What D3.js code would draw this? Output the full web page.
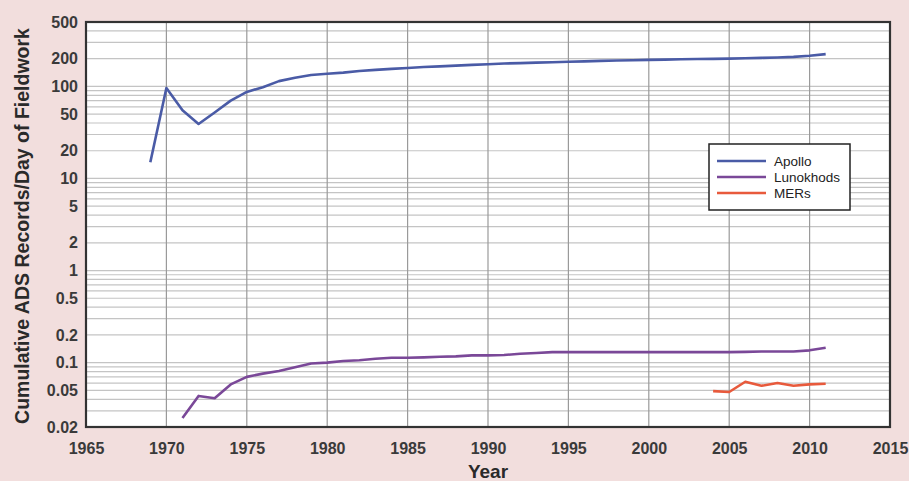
<!DOCTYPE html>
<html>
<head>
<meta charset="utf-8">
<script src="https://cdn.jsdelivr.net/npm/d3@7"></script>
<style>
  body { margin: 0; background: #f2dedd; }
  svg { display: block; }
</style>
</head>
<body>
<div id="chart"></div>
<script>
// data
var apolloYears = [1969, 1970, 1971, 1972, 1973, 1974, 1975, 1976, 1977, 1978, 1979, 1980,
  1981, 1982, 1983, 1984, 1985, 1986, 1987, 1988, 1989, 1990, 1991, 1992, 1993, 1994, 1995,
  1996, 1997, 1998, 1999, 2000, 2001, 2002, 2003, 2004, 2005, 2006, 2007, 2008, 2009, 2010, 2011];
var apolloValues = [15, 96, 55, 39, 52, 70, 87, 98, 114, 124, 133, 137,
  141, 147, 151, 155, 158, 162, 165, 168, 171, 174, 177, 179, 181, 183, 185,
  187, 189, 191, 192, 194, 195, 197, 198, 199, 200, 202, 204, 206, 209, 215, 224];

var lunoYears = [1971, 1972, 1973, 1974, 1975, 1976, 1977, 1978, 1979, 1980, 1981, 1982,
  1983, 1984, 1985, 1986, 1987, 1988, 1989, 1990, 1991, 1992, 1993, 1994, 1995, 1996,
  1997, 1998, 1999, 2000, 2001, 2002, 2003, 2004, 2005, 2006, 2007, 2008, 2009, 2010, 2011];
var lunoValues = [0.025, 0.0435, 0.041, 0.058, 0.070, 0.076, 0.081, 0.089, 0.098, 0.100, 0.104, 0.106,
  0.110, 0.113, 0.113, 0.114, 0.116, 0.117, 0.120, 0.120, 0.121, 0.125, 0.127, 0.130, 0.130, 0.130,
  0.130, 0.130, 0.130, 0.130, 0.130, 0.130, 0.130, 0.130, 0.130, 0.131, 0.132, 0.132, 0.132, 0.136, 0.145];

var merYears = [2004, 2005, 2006, 2007, 2008, 2009, 2010, 2011];
var merValues = [0.049, 0.048, 0.062, 0.056, 0.060, 0.056, 0.058, 0.059];

var seriesNames = ["Apollo", "Lunokhods", "MERs"];
var seriesColors = ["#4a5ba6", "#7a4898", "#e85a3c"];

var xTicks = [1965, 1970, 1975, 1980, 1985, 1990, 1995, 2000, 2005, 2010, 2015];
var yTicks = [0.02, 0.05, 0.1, 0.2, 0.5, 1, 2, 5, 10, 20, 50, 100, 200, 500];

var W = 909, H = 481;
var pL = 86, pR = 890, pT = 22, pB = 427;
var font = "Liberation Sans, Arial, sans-serif";

var x = d3.scaleLinear().domain([1965, 2015]).range([pL, pR]);
var y = d3.scaleLog().domain([0.02, 500]).range([pB, pT]);

var svg = d3.select("#chart").append("svg")
    .attr("width", W)
    .attr("height", H);

svg.append("rect")
    .attr("x", 0).attr("y", 0)
    .attr("width", W).attr("height", H)
    .attr("fill", "#f2dedd");

// plot area
svg.append("rect")
    .attr("x", pL).attr("y", pT)
    .attr("width", pR - pL).attr("height", pB - pT)
    .attr("fill", "#ffffff");

// minor log grid: 1..9 x each decade
var gridVals = [];
for (var e = -2; e <= 2; e++) {
  for (var m = 1; m <= 9; m++) {
    var v = m * Math.pow(10, e);
    if (v >= 0.02 && v <= 500) gridVals.push(v);
  }
}
svg.append("g").selectAll("line")
    .data(gridVals)
    .enter().append("line")
    .attr("x1", pL).attr("x2", pR)
    .attr("y1", function (d) { return y(d); })
    .attr("y2", function (d) { return y(d); })
    .attr("stroke", "#c4c4c4")
    .attr("stroke-width", 1.2);

svg.append("g").selectAll("line")
    .data(xTicks.slice(1, -1))
    .enter().append("line")
    .attr("x1", function (d) { return x(d); })
    .attr("x2", function (d) { return x(d); })
    .attr("y1", pT).attr("y2", pB)
    .attr("stroke", "#9a9a9a")
    .attr("stroke-width", 1.2);

// axes (labels only, frame drawn separately)
var xAxis = svg.append("g")
    .attr("transform", "translate(0," + pB + ")")
    .call(d3.axisBottom(x).tickValues(xTicks).tickFormat(d3.format("d")).tickSize(0).tickPadding(15.5));
var yAxis = svg.append("g")
    .attr("transform", "translate(" + pL + ",0)")
    .call(d3.axisLeft(y).tickValues(yTicks).tickFormat(function (d) { return String(d); }).tickSize(0).tickPadding(8));

[xAxis, yAxis].forEach(function (a) {
  a.select(".domain").remove();
  a.selectAll("text")
      .attr("font-family", font)
      .attr("font-size", "16px")
      .attr("font-weight", "bold")
      .attr("fill", "#3a3a3a");
});

svg.append("rect")
    .attr("x", pL).attr("y", pT)
    .attr("width", pR - pL).attr("height", pB - pT)
    .attr("fill", "none")
    .attr("stroke", "#333")
    .attr("stroke-width", 2.2);

// series lines
var line = d3.line()
    .x(function (d) { return x(d[0]); })
    .y(function (d) { return y(d[1]); });

var series = [
  d3.zip(apolloYears, apolloValues),
  d3.zip(lunoYears, lunoValues),
  d3.zip(merYears, merValues)
];

svg.append("g").selectAll("path")
    .data(series)
    .enter().append("path")
    .attr("d", function (d) { return line(d); })
    .attr("fill", "none")
    .attr("stroke", function (d, i) { return seriesColors[i]; })
    .attr("stroke-width", 2.6)
    .attr("stroke-linejoin", "round");

// axis titles
svg.append("text")
    .text("Year")
    .attr("x", 488)
    .attr("y", 478)
    .attr("text-anchor", "middle")
    .attr("font-family", font)
    .attr("font-size", "19px")
    .attr("font-weight", "bold")
    .attr("fill", "#2a2a2a");

svg.append("text")
    .text("Cumulative ADS Records/Day of Fieldwork")
    .attr("transform", "translate(28.5,226) rotate(-90)")
    .attr("text-anchor", "middle")
    .attr("font-family", font)
    .attr("font-size", "19.5px")
    .attr("font-weight", "bold")
    .attr("fill", "#2a2a2a");

// legend
var lg = svg.append("g").attr("transform", "translate(709,144)");
lg.append("rect")
    .attr("width", 141).attr("height", 66)
    .attr("fill", "#fff")
    .attr("stroke", "#222")
    .attr("stroke-width", 1.5);
var items = lg.selectAll("g.item")
    .data(seriesNames)
    .enter().append("g")
    .attr("transform", function (d, i) { return "translate(0," + (17 + i * 16) + ")"; });
items.append("line")
    .attr("x1", 8).attr("x2", 57)
    .attr("stroke", function (d, i) { return seriesColors[i]; })
    .attr("stroke-width", 2.4);
items.append("text")
    .text(function (d) { return d; })
    .attr("x", 65).attr("y", 5)
    .attr("font-family", font)
    .attr("font-size", "13.5px")
    .attr("fill", "#222");
</script>
</body>
</html>
